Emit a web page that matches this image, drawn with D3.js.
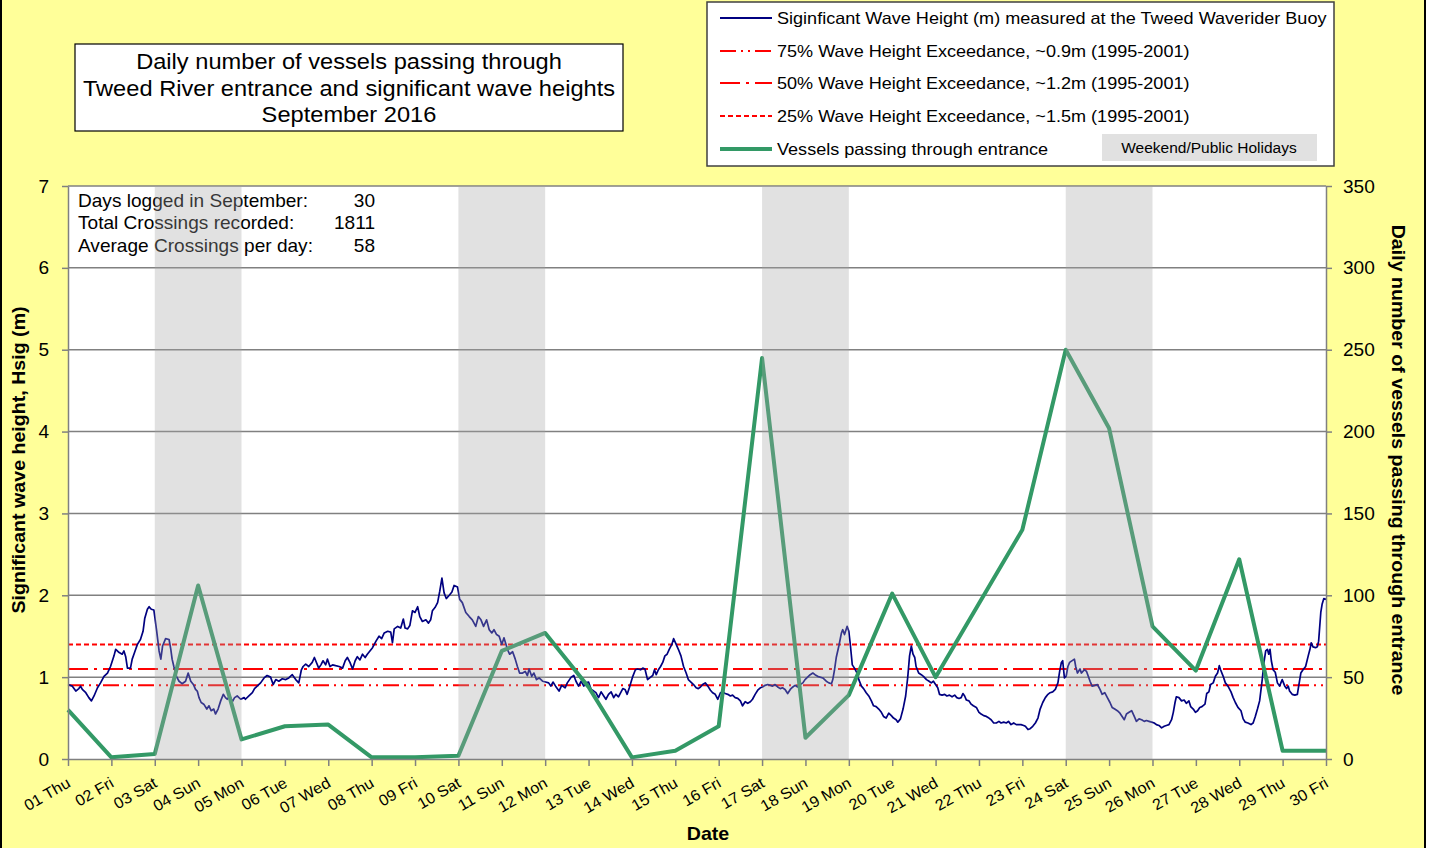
<!DOCTYPE html>
<html><head><meta charset="utf-8">
<script src="https://cdn.jsdelivr.net/npm/d3@7"></script>
<style>body{margin:0;background:#fff;} svg{display:block;font-family:"Liberation Sans",Arial,sans-serif;}</style>
</head><body><svg id="c" width="1429" height="848"></svg>
<script>
const dayLabels = ["01 Thu","02 Fri","03 Sat","04 Sun","05 Mon","06 Tue","07 Wed","08 Thu","09 Fri","10 Sat","11 Sun","12 Mon","13 Tue","14 Wed","15 Thu","16 Fri","17 Sat","18 Sun","19 Mon","20 Tue","21 Wed","22 Thu","23 Fri","24 Sat","25 Sun","26 Mon","27 Tue","28 Wed","29 Thu","30 Fri"];
const vesselDays = [1,2,3,4,5,6,7,8,9,10,11,12,13,14,15,16,17,18,19,20,21,22,23,24,25,26,27,28,29,30];
const vessels = [30,1,3,106,12,20,21,1,1,2,66,77,44,1,5,20,245,13,39,101,50,95,140,250,202,81,54,122,5,5];
const weekendStart = [3,10,17,24];
const weekendEnd = [5,12,19,26];
const exceedLevels = [0.9,1.1,1.4];
const leftTicks = [0,1,2,3,4,5,6,7];
const rightTicks = [0,50,100,150,200,250,300,350];
const infoLabels = ["Days logged  in September:","Total Crossings recorded:","Average Crossings per day:"];
const infoValues = ["30","1811","58"];
const legendLabels = ["Siginficant Wave Height (m) measured at the Tweed Waverider Buoy","75% Wave Height Exceedance, ~0.9m (1995-2001)","50% Wave Height Exceedance, ~1.2m (1995-2001)","25% Wave Height Exceedance, ~1.5m (1995-2001)","Vessels passing through entrance"];
const titleLines = ["Daily number of vessels passing through","Tweed River entrance and significant wave heights","September 2016"];

const waveDay = [1.00,1.10,1.18,1.25,1.29,1.33,1.41,1.48,1.54,1.60,1.68,1.75,1.83,1.91,1.98,2.06,2.10,2.18,2.25,2.29,2.33,2.37,2.44,2.48,2.52,2.56,2.60,2.67,2.73,2.77,2.83,2.87,2.92,2.98,3.04,3.10,3.14,3.18,3.25,3.33,3.37,3.40,3.44,3.50,3.56,3.63,3.71,3.77,3.83,3.89,3.94,3.98,4.02,4.07,4.13,4.20,4.25,4.30,4.36,4.40,4.46,4.52,4.58,4.63,4.67,4.73,4.79,4.84,4.90,4.98,5.06,5.09,5.17,5.25,5.30,5.36,5.44,5.52,5.59,5.67,5.73,5.79,5.86,5.94,6.02,6.09,6.17,6.25,6.32,6.38,6.42,6.48,6.55,6.63,6.68,
6.78,6.83,6.88,6.94,6.98,7.04,7.10,7.17,7.25,7.33,7.39,7.44,7.50,7.56,7.62,7.67,7.73,7.79,7.85,7.90,7.96,8.02,8.10,8.17,8.23,8.29,8.37,8.44,8.48,8.52,8.60,8.67,8.73,8.77,8.83,8.88,8.94,9.00,9.06,9.11,9.17,9.25,9.31,9.36,9.40,9.46,9.52,9.57,9.62,9.67,9.72,9.79,9.85,9.90,9.98,10.03,10.09,10.17,10.25,10.32,10.40,10.46,10.52,10.58,10.65,10.71,10.77,10.82,10.88,10.94,11.00,11.05,11.13,11.18,11.25,11.31,11.36,11.41,11.48,11.54,11.59,11.63,11.69,11.74,11.80,11.86,11.94,12.01,12.08,12.13,12.18,12.24,12.32,12.38,12.46,12.51,
12.60,12.66,12.71,12.77,12.83,12.89,12.94,13.00,13.06,13.12,13.17,13.23,13.29,13.35,13.40,13.46,13.52,13.58,13.63,13.69,13.75,13.79,13.84,13.89,13.94,14.02,14.08,14.13,14.20,14.25,14.30,14.36,14.43,14.48,14.52,14.56,14.61,14.66,14.71,14.76,14.81,14.86,14.92,14.96,15.02,15.07,15.13,15.19,15.25,15.30,15.36,15.42,15.48,15.53,15.58,15.63,15.69,15.75,15.81,15.86,15.92,15.98,16.04,16.09,16.15,16.21,16.27,16.32,16.38,16.44,16.50,16.55,16.61,16.67,16.73,16.78,16.84,16.90,16.96,17.01,17.07,17.13,17.19,17.24,17.30,17.36,17.42,17.47,17.53,17.59,17.65,17.71,17.76,17.82,17.88,17.94,17.99,18.05,18.11,18.17,18.22,18.28,
18.40,18.48,18.54,18.60,18.63,18.67,18.71,18.77,18.83,18.86,18.90,18.96,19.00,19.03,19.08,19.13,19.19,19.23,19.29,19.34,19.40,19.46,19.52,19.57,19.63,19.69,19.75,19.80,19.86,19.92,19.98,20.03,20.09,20.13,20.19,20.25,20.31,20.36,20.40,20.44,20.48,20.52,20.55,20.61,20.67,20.72,20.79,20.85,20.90,20.95,21.00,21.05,21.09,21.15,21.21,21.26,21.32,21.38,21.44,21.49,21.54,21.59,21.63,21.67,21.71,21.77,21.82,21.87,21.94,22.00,22.05,22.11,22.17,22.23,22.28,22.34,22.40,22.46,22.51,22.57,22.63,22.68,22.74,22.80,22.86,22.92,22.97,23.03,23.07,23.13,23.18,23.24,23.30,23.36,23.41,23.47,23.53,23.59,23.64,23.70,23.76,23.82,23.86,23.90,23.93,23.97,24.01,24.05,24.09,
24.20,24.23,24.27,24.33,24.36,24.43,24.48,24.52,24.56,24.61,24.67,24.73,24.79,24.84,24.90,24.96,25.02,25.07,25.13,25.19,25.25,25.30,25.35,25.40,25.46,25.52,25.58,25.63,25.69,25.75,25.81,25.86,25.92,25.98,26.04,26.09,26.15,26.21,26.27,26.32,26.38,26.44,26.48,26.52,26.55,26.61,26.67,26.73,26.78,26.84,26.88,26.94,26.99,27.04,27.09,27.14,27.21,27.25,27.30,27.34,27.40,27.45,27.50,27.54,27.57,27.63,27.68,27.74,27.81,27.86,27.91,27.97,28.04,28.09,28.14,28.20,28.27,28.32,28.37,28.42,28.47,28.53,28.57,28.61,28.65,28.68,28.71,28.74,28.78,28.83,28.88,28.93,28.99,29.05,29.09,29.13,29.16,29.22,29.28,29.34,29.37,29.42,29.47,29.53,29.59,29.63,29.66,29.70,29.76,29.80,29.83,29.88,29.91,29.95,30.00];
const waveHs = [0.91,0.89,0.83,0.86,0.89,0.85,0.81,0.75,0.71,0.77,0.87,0.93,1.01,1.05,1.13,1.26,1.34,1.30,1.28,1.32,1.25,1.11,1.11,1.22,1.28,1.34,1.40,1.46,1.56,1.72,1.83,1.86,1.83,1.82,1.58,1.32,1.22,1.38,1.47,1.46,1.34,1.22,1.13,1.01,0.95,0.92,0.95,1.05,0.95,0.91,0.85,0.83,0.75,0.69,0.67,0.61,0.65,0.59,0.61,0.55,0.61,0.71,0.79,0.75,0.73,0.77,0.70,0.75,0.77,0.73,0.75,0.73,0.77,0.81,0.86,0.89,0.93,0.99,1.02,1.00,0.91,0.97,0.95,0.98,0.97,0.99,1.03,0.97,0.93,1.09,1.13,1.16,1.13,1.18,1.24,
1.11,1.15,1.20,1.15,1.22,1.13,1.15,1.14,1.13,1.11,1.20,1.24,1.18,1.10,1.20,1.25,1.21,1.28,1.24,1.28,1.32,1.36,1.44,1.50,1.47,1.54,1.56,1.55,1.42,1.59,1.62,1.60,1.71,1.60,1.59,1.63,1.81,1.79,1.86,1.74,1.68,1.70,1.66,1.70,1.81,1.85,1.91,2.05,2.21,2.03,1.96,2.00,2.04,2.12,2.10,1.95,1.91,1.79,1.74,1.70,1.62,1.74,1.70,1.62,1.70,1.58,1.54,1.58,1.52,1.50,1.40,1.48,1.34,1.28,1.31,1.22,1.13,1.05,1.05,1.07,1.02,1.10,1.01,1.05,0.97,0.99,0.95,0.94,0.93,0.89,0.94,0.89,0.83,0.90,0.87,0.93,
1.00,1.02,0.95,0.89,0.95,0.89,0.93,0.94,0.85,0.83,0.81,0.75,0.82,0.77,0.73,0.79,0.82,0.75,0.79,0.76,0.82,0.86,0.85,0.79,0.87,1.01,1.09,1.10,1.09,1.11,1.10,0.97,1.00,1.02,1.09,1.03,1.09,1.13,1.18,1.26,1.28,1.34,1.40,1.47,1.40,1.34,1.26,1.13,1.05,0.97,0.94,0.91,0.87,0.86,0.88,0.91,0.93,0.89,0.84,0.81,0.79,0.73,0.81,0.82,0.80,0.79,0.77,0.78,0.75,0.74,0.71,0.65,0.70,0.68,0.70,0.73,0.79,0.84,0.87,0.88,0.90,0.91,0.90,0.89,0.91,0.88,0.86,0.87,0.85,0.80,0.85,0.88,0.90,0.88,0.91,0.93,0.97,1.00,1.03,1.05,1.03,1.01,
0.99,0.95,0.93,0.92,0.97,1.09,1.24,1.38,1.54,1.58,1.52,1.62,1.56,1.42,1.15,1.11,1.05,0.97,0.89,0.86,0.81,0.77,0.71,0.65,0.64,0.61,0.57,0.52,0.50,0.56,0.53,0.50,0.48,0.45,0.49,0.61,0.77,1.01,1.26,1.38,1.28,1.24,1.13,1.05,1.03,1.01,0.97,0.95,0.93,0.95,0.91,0.87,0.79,0.78,0.79,0.77,0.78,0.76,0.78,0.75,0.74,0.75,0.80,0.77,0.72,0.71,0.67,0.65,0.63,0.57,0.55,0.53,0.52,0.50,0.48,0.44,0.44,0.46,0.44,0.45,0.44,0.46,0.42,0.44,0.42,0.42,0.42,0.41,0.40,0.36,0.37,0.40,0.44,0.50,0.61,0.69,0.75,0.79,0.81,0.82,0.85,0.93,1.07,1.18,1.20,0.99,1.01,1.13,1.18,
1.22,1.13,1.05,1.10,1.05,1.09,1.07,1.01,0.95,0.89,0.90,0.91,0.85,0.79,0.81,0.75,0.69,0.63,0.61,0.59,0.56,0.52,0.48,0.55,0.57,0.59,0.52,0.46,0.49,0.48,0.46,0.47,0.46,0.45,0.44,0.42,0.41,0.38,0.40,0.41,0.42,0.48,0.57,0.69,0.76,0.75,0.71,0.72,0.68,0.71,0.64,0.61,0.57,0.59,0.63,0.64,0.67,0.80,0.82,0.91,0.93,1.01,1.05,1.14,1.09,1.01,0.93,0.89,0.82,0.75,0.69,0.63,0.59,0.49,0.45,0.44,0.42,0.44,0.52,0.61,0.71,0.97,1.18,1.32,1.34,1.28,1.34,1.20,1.09,1.06,0.93,0.89,0.97,0.89,0.86,0.89,0.83,0.79,0.78,0.79,0.89,1.05,1.09,1.13,1.26,1.34,1.42,1.37,1.36,1.37,1.44,1.79,1.89,1.96,1.95];

const svg = d3.select('#c');
const FONT = '"Liberation Sans",Arial,sans-serif';
const SX = 1.09; // horizontal stretch of the reference's lettering
svg.append('rect').attr('x',1).attr('y',-2).attr('width',1424).attr('height',852)
  .attr('fill','#FFFF99').attr('stroke','#000').attr('stroke-width',2);

const x = d3.scaleLinear().domain([1,30]).range([68,1326]);
const y = d3.scaleLinear().domain([0,7]).range([759,186]);
const y2 = d3.scaleLinear().domain([0,350]).range([759,186]);

function label(parent, tx, ty, txt, size, anchor, rot, k){
  return parent.append('text')
    .attr('transform',`translate(${tx},${ty}) rotate(${rot||0}) scale(${k||SX},1)`)
    .attr('text-anchor',anchor||'start').attr('font-size',size).text(txt);
}

// plot area
svg.append('rect').attr('x',x(1)).attr('y',y(7)).attr('width',x(30)-x(1)).attr('height',y(0)-y(7)).attr('fill','#fff');
svg.append('g').selectAll('line').data(leftTicks.filter(d=>d>0)).join('line')
  .attr('x1',x(1)).attr('x2',x(30)).attr('y1',d=>y(d)).attr('y2',d=>y(d))
  .attr('stroke','#808080').attr('stroke-width',1.5);

// info text
const info = svg.append('g').attr('fill','#000');
infoLabels.forEach((t,i)=>{
  label(info,78,207+i*22.3,t,17.5,'start');
  label(info,375,207+i*22.3,infoValues[i],17.5,'end');
});

// exceedance lines
const dashes = ['16,5,2,5,2,5','20,6,3,6','5,3'];
svg.append('g').selectAll('line').data(exceedLevels).join('line')
  .attr('x1',x(1)).attr('x2',x(30)).attr('y1',d=>y(d)).attr('y2',d=>y(d))
  .attr('stroke','#FF0000').attr('stroke-width',2).attr('stroke-dasharray',(d,i)=>dashes[i]);

// wave line
const waveData = waveDay.map((d,i)=>[d,waveHs[i]]);
svg.append('path').datum(waveData)
  .attr('d',d3.line().x(d=>x(d[0])).y(d=>y(d[1])))
  .attr('fill','none').attr('stroke','#000080').attr('stroke-width',1.7).attr('stroke-linejoin','round');

// vessels
svg.append('path').datum(vessels.map((v,i)=>[vesselDays[i],v]))
  .attr('d',d3.line().x(d=>x(d[0])).y(d=>y2(d[1])))
  .attr('fill','none').attr('stroke','#339966').attr('stroke-width',4).attr('stroke-linejoin','round');

// weekend bands (semi-transparent, on top)
svg.append('g').selectAll('rect').data(weekendStart).join('rect')
  .attr('x',d=>x(d)).attr('width',(d,i)=>x(weekendEnd[i])-x(d))
  .attr('y',y2(350)).attr('height',y2(0)-y2(350))
  .attr('fill','rgb(165,165,165)').attr('fill-opacity',0.33);

// axes
function styleAxis(g){
  g.selectAll('.domain').attr('stroke','#808080').attr('stroke-width',1.5);
  g.selectAll('.tick line').attr('stroke','#808080').attr('stroke-width',1.5);
  g.selectAll('text').attr('fill','#000').attr('font-family',FONT);
}
const gl = svg.append('g').attr('transform',`translate(${x(1)},0)`)
  .call(d3.axisLeft(y).tickValues(leftTicks).tickFormat(d3.format('d')).tickSize(6).tickSizeOuter(0).tickPadding(13));
styleAxis(gl);
gl.selectAll('.tick text').attr('font-size',17.5).attr('dy',null).attr('x',null)
  .attr('transform',`translate(-19,6) scale(${SX},1)`);
const gr = svg.append('g').attr('transform',`translate(${x(30)},0)`)
  .call(d3.axisRight(y2).tickValues(rightTicks).tickFormat(d3.format('d')).tickSize(6).tickSizeOuter(0).tickPadding(11));
styleAxis(gr);
gr.selectAll('.tick text').attr('font-size',17.5).attr('dy',null).attr('x',null)
  .attr('transform',`translate(17,6) scale(${SX},1)`);
const gb = svg.append('g').attr('transform',`translate(0,${y(0)})`)
  .call(d3.axisBottom(x).tickValues(vesselDays).tickFormat(d=>dayLabels[d-1]).tickSize(7).tickSizeOuter(0));
styleAxis(gb);
gb.selectAll('.tick text').attr('font-size',15.5).attr('text-anchor','end')
  .attr('dy',null).attr('y',null).attr('transform',`translate(3,27) rotate(-30) scale(1.05,1)`);

// axis titles
label(svg,25,460,'Significant wave height, Hsig  (m)',18,'middle',-90).attr('font-weight','bold');
label(svg,1392,460,'Daily number of vessels passing through entrance',18,'middle',90).attr('font-weight','bold');
label(svg,708,840,'Date',18,'middle',0).attr('font-weight','bold');

// title box
svg.append('rect').attr('x',75).attr('y',44).attr('width',548).attr('height',87)
  .attr('fill','#fff').attr('stroke','#000').attr('stroke-width',1.2);
titleLines.forEach((t,i)=>label(svg,349,69+i*26.5,t,22,'middle',0,1.075));

// legend
const lg = svg.append('g');
lg.append('rect').attr('x',707).attr('y',2).attr('width',627).attr('height',164)
  .attr('fill','#fff').attr('stroke','#404040').attr('stroke-width',1.5);
const legY = [18,51,83,116,149];
const legStroke = ['#000080','#FF0000','#FF0000','#FF0000','#339966'];
const legW = [2,2,2,2,4];
const legDash = [null,'16,5,2,5,2,5','20,6,3,6','5,3',null];
legendLabels.forEach((t,i)=>{
  lg.append('line').attr('x1',720).attr('x2',772).attr('y1',legY[i]).attr('y2',legY[i])
    .attr('stroke',legStroke[i]).attr('stroke-width',legW[i]).attr('stroke-dasharray',legDash[i]);
  label(lg,777,legY[i]+6,t,16.5,'start',0,1.095);
});
lg.append('rect').attr('x',1102).attr('y',134).attr('width',215).attr('height',27).attr('fill','#E1E1E1');
label(lg,1209,153,'Weekend/Public Holidays',14.5,'middle',0,1.07);
</script></body></html>
